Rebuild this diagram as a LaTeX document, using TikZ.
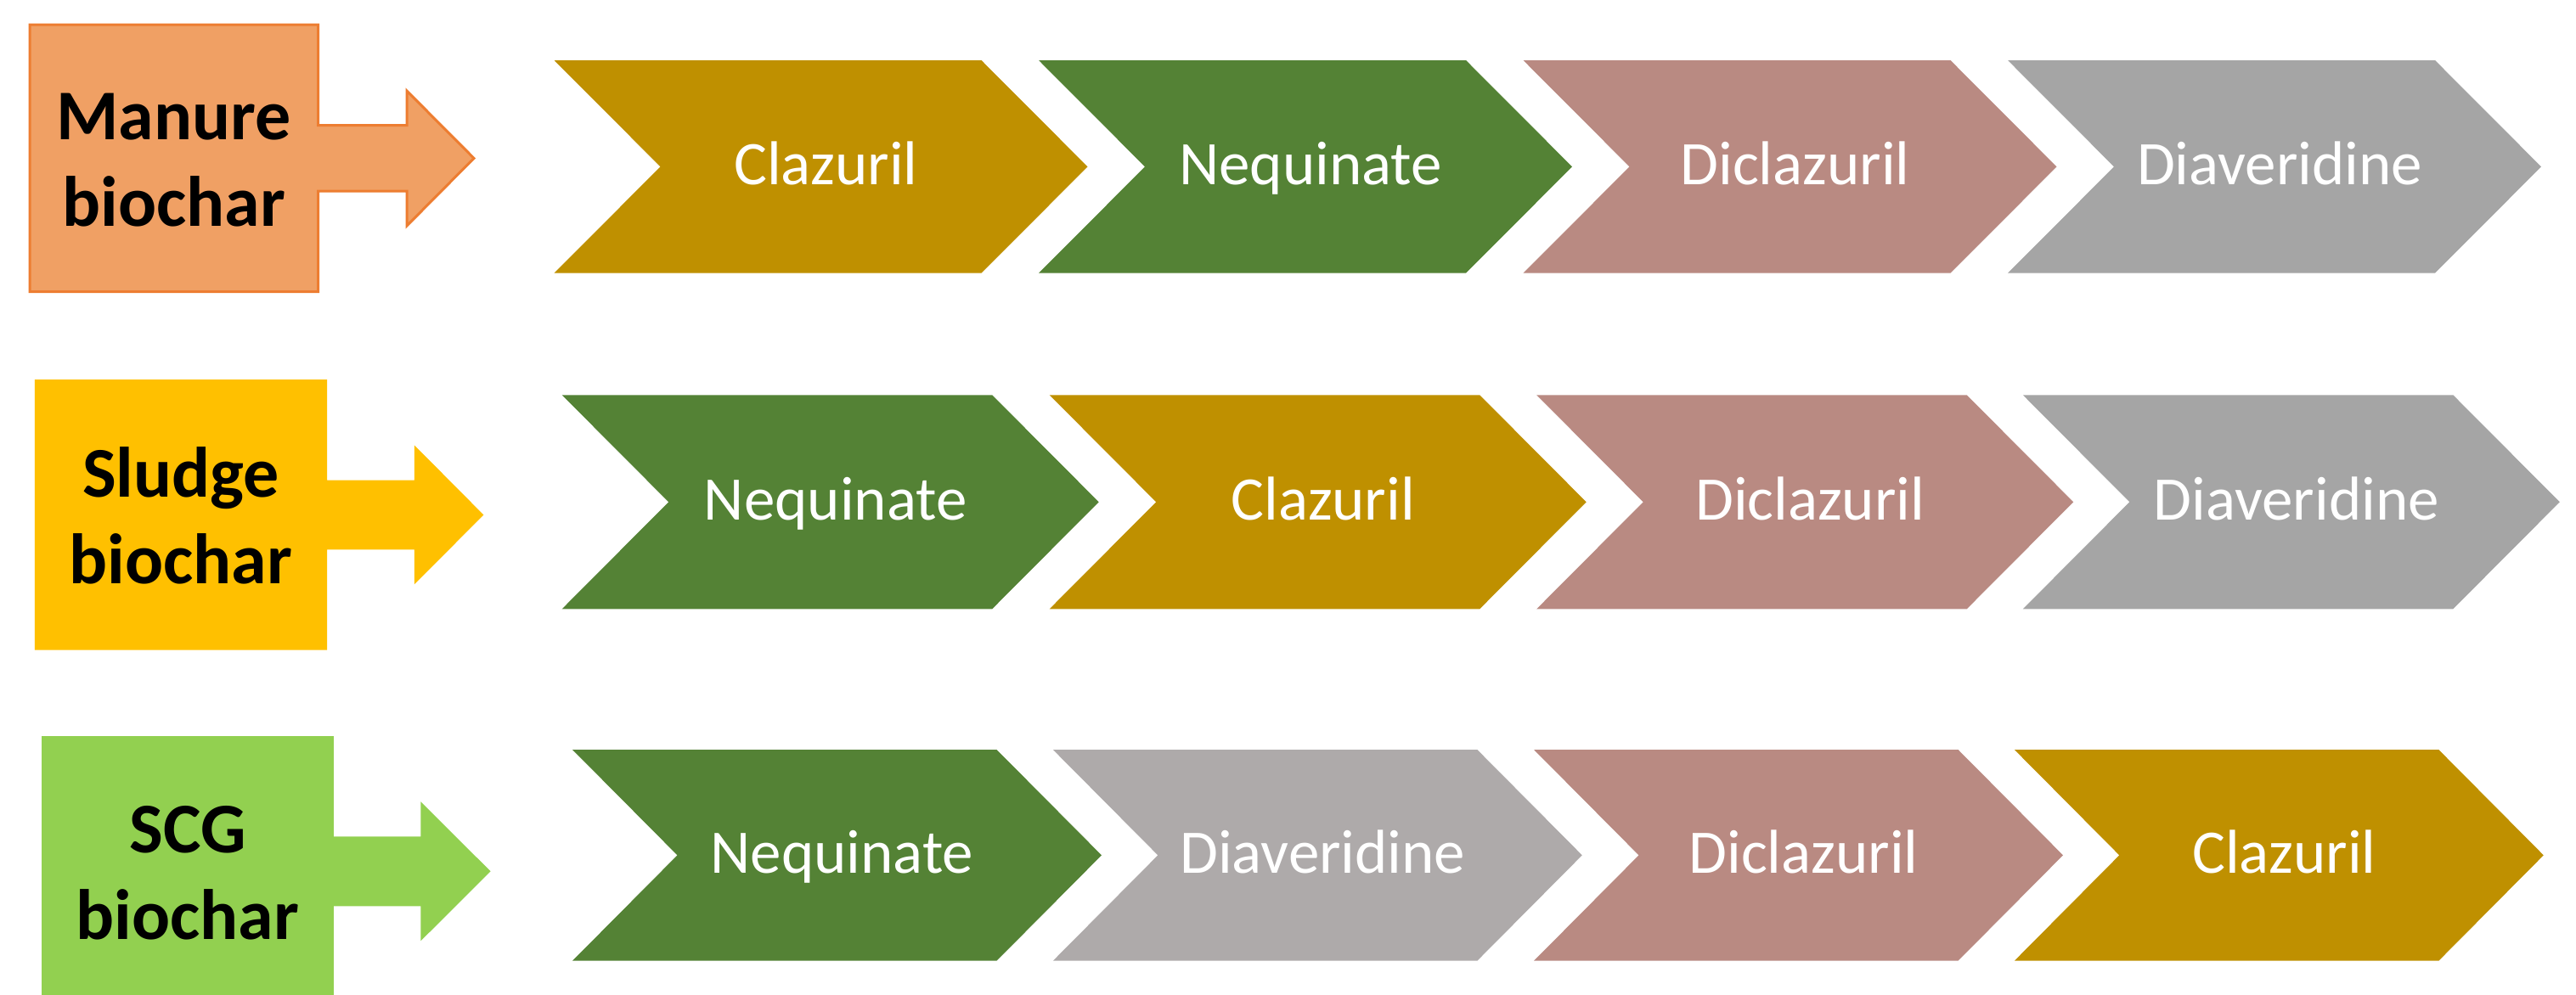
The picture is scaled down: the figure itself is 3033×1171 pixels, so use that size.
\documentclass[tikz,border=0pt]{standalone}
\usepackage{fontspec}
\setmainfont{Carlito}
\definecolor{clz}{HTML}{BF9000}
\definecolor{neq}{HTML}{548235}
\definecolor{dic}{HTML}{B98A82}
\definecolor{dia}{HTML}{A5A5A5}
\definecolor{diab}{HTML}{AEAAAA}
\definecolor{manfill}{HTML}{F0A064}
\definecolor{manline}{HTML}{ED7D31}
\definecolor{sludgefill}{HTML}{FFC000}
\definecolor{scgfill}{HTML}{92D050}
\newcommand{\drawchevron}[8]{%
  \fill[#7] (#2,#3) -- ({#2+#5-#6},#3) -- ({#2+#5},{(#3+#4)/2}) -- ({#2+#5-#6},#4) -- (#2,#4) -- ({#2+#6},{(#3+#4)/2}) -- cycle;
  \node[steplabel] (#1) at ({#2+#5/2+6},{(#3+#4)/2+21.5}) {#8};
}
\tikzset{
  steplabel/.style={text=white, font=\fontsize{73}{88}\selectfont, anchor=base, inner sep=0pt},
  boxlabel/.style={text=black, font=\bfseries\fontsize{84}{102}\selectfont, align=center, inner sep=0pt, anchor=center},
}
\begin{document}
\begin{tikzpicture}[x=1pt,y=-1pt]
\useasboundingbox (0,0) rectangle (3033,1171);
% callout arrows
\filldraw[fill=manfill, draw=manline, line width=3pt, line join=miter]
  (35,29) -- (374.5,29) -- (374.5,147.5) -- (479,147.5) -- (479,107) -- (558,186.4)
  -- (479,266) -- (479,225.2) -- (374.5,225.2) -- (374.5,343.5) -- (35,343.5) -- cycle;
\fill[sludgefill]
  (40.8,447) -- (385.2,447) -- (385.2,565.7) -- (487.8,565.7) -- (487.8,524.3) -- (569.4,606.5)
  -- (487.8,688.3) -- (487.8,647.3) -- (385.2,647.3) -- (385.2,765.7) -- (40.8,765.7) -- cycle;
\fill[scgfill]
  (49,867) -- (392.9,867) -- (392.9,985.3) -- (495.4,985.3) -- (495.4,944.3) -- (577.6,1026.3)
  -- (495.4,1108.3) -- (495.4,1067.3) -- (392.9,1067.3) -- (392.9,1175) -- (49,1175) -- cycle;
\node[boxlabel] (manure) at (204.7,188.5) {Manure\\biochar};
\node[boxlabel] (sludge) at (213,607) {Sludge\\biochar};
\node[boxlabel] (scg) at (221,1028.7) {SCG\\biochar};
% row 1
\drawchevron{r1a}{652.5}{71}{321.7}{628}{125}{clz}{Clazuril}
\drawchevron{r1b}{1223}{71}{321.7}{628}{125}{neq}{Nequinate}
\drawchevron{r1c}{1793.5}{71}{321.7}{628}{125}{dic}{Diclazuril}
\drawchevron{r1d}{2364}{71}{321.7}{628}{125}{dia}{Diaveridine}
% row 2
\drawchevron{r2a}{661.7}{465.3}{717.3}{632}{125.5}{neq}{Nequinate}
\drawchevron{r2b}{1235.7}{465.3}{717.3}{632}{125.5}{clz}{Clazuril}
\drawchevron{r2c}{1809.2}{465.3}{717.3}{632}{125.5}{dic}{Diclazuril}
\drawchevron{r2d}{2381.8}{465.3}{717.3}{632}{125.5}{dia}{Diaveridine}
% row 3
\drawchevron{r3a}{674}{883}{1131.7}{623}{123.5}{neq}{Nequinate}
\drawchevron{r3b}{1239.8}{883}{1131.7}{623}{123.5}{diab}{Diaveridine}
\drawchevron{r3c}{1806}{883}{1131.7}{623}{123.5}{dic}{Diclazuril}
\drawchevron{r3d}{2371.8}{883}{1131.7}{623}{123.5}{clz}{Clazuril}
\end{tikzpicture}
\end{document}
